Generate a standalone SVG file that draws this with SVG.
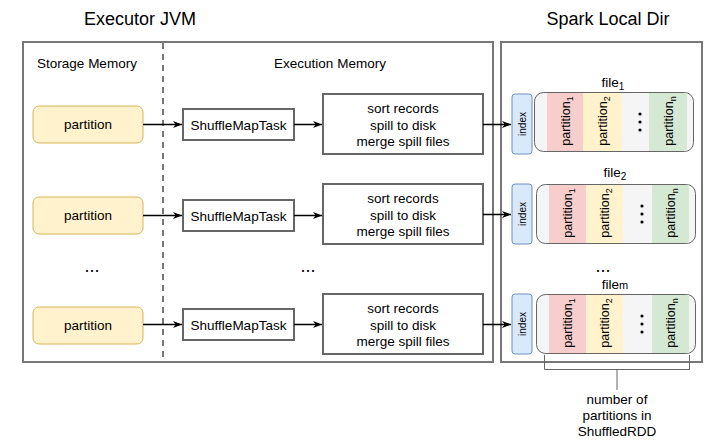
<svg xmlns="http://www.w3.org/2000/svg" width="706" height="444" viewBox="0 0 706 444">
<defs>
<style>
text{font-family:"Liberation Sans",Arial,sans-serif;fill:#000}
.title{font-size:18px;text-anchor:middle}
.lbl{font-size:13.5px;text-anchor:middle}
.cont{fill:#fff;stroke:#777;stroke-width:2}
.part{fill:#fff2cc;stroke:#d6b656;stroke-width:1}
.box{fill:#fff;stroke:#666;stroke-width:2}
.idx{fill:#dae8fc;stroke:#6c8ebf;stroke-width:1}
.file{fill:#f5f5f5;stroke:#666;stroke-width:1}
.p1{fill:#f8cecc}.p2{fill:#fff2cc}.pn{fill:#d5e8d4}
.rot{font-size:12.5px;text-anchor:middle}
.small{font-size:10px;text-anchor:middle}
.edge{fill:none;stroke:#000;stroke-width:1.5}
.br{fill:none;stroke:#666;stroke-width:1}
</style>
<marker id="arr" viewBox="0 0 10 10" refX="10" refY="5" markerWidth="9" markerHeight="9" markerUnits="userSpaceOnUse" orient="auto">
<path d="M0,1 L10,5 L0,9 L3,5 Z" fill="#000"/>
</marker>
</defs>

<text class="title" x="140" y="25">Executor JVM</text>
<text class="title" x="608" y="25">Spark Local Dir</text>

<g id="executor-jvm">
<rect class="cont" x="23" y="42" width="470" height="320"/>
<line x1="163" y1="43" x2="163" y2="361" stroke="#777" stroke-width="2" stroke-dasharray="6,5"/>
<text class="lbl" x="87" y="68">Storage Memory</text>
<text class="lbl" x="330" y="68">Execution Memory</text>
<text class="title" x="92" y="272">...</text>
<text class="title" x="308" y="272">...</text>
</g>

<g id="spark-local-dir">
<rect class="cont" x="501" y="42" width="201" height="320"/>
<text class="title" x="603" y="272">...</text>
</g>

<g id="partition-1"><rect class="part" x="33" y="106" width="110" height="37" rx="6"/><text class="lbl" x="88" y="129">partition</text></g>
<g id="partition-2"><rect class="part" x="33" y="197" width="110" height="37" rx="6"/><text class="lbl" x="88" y="220">partition</text></g>
<g id="partition-3"><rect class="part" x="33" y="307" width="110" height="37" rx="6"/><text class="lbl" x="88" y="330">partition</text></g>

<g id="task-1"><rect class="box" x="183" y="109" width="111" height="31"/><text class="lbl" x="238.5" y="129.5">ShuffleMapTask</text></g>
<g id="task-2"><rect class="box" x="183" y="200" width="111" height="31"/><text class="lbl" x="238.5" y="220.5">ShuffleMapTask</text></g>
<g id="task-3"><rect class="box" x="183" y="309" width="111" height="31"/><text class="lbl" x="238.5" y="329.5">ShuffleMapTask</text></g>

<g id="sort-1"><rect class="box" x="323" y="94" width="160" height="60"/>
<text class="lbl" x="403" y="113">sort records</text><text class="lbl" x="403" y="129.5">spill to disk</text><text class="lbl" x="403" y="146">merge spill files</text></g>
<g id="sort-2"><rect class="box" x="323" y="184" width="160" height="60"/>
<text class="lbl" x="403" y="203">sort records</text><text class="lbl" x="403" y="219.5">spill to disk</text><text class="lbl" x="403" y="236">merge spill files</text></g>
<g id="sort-3"><rect class="box" x="323" y="294" width="160" height="60"/>
<text class="lbl" x="403" y="313">sort records</text><text class="lbl" x="403" y="329.5">spill to disk</text><text class="lbl" x="403" y="346">merge spill files</text></g>

<g id="index-1"><rect class="idx" x="512" y="94" width="20" height="60" rx="3"/><text class="small" transform="translate(525.5,124) rotate(-90)">index</text></g>
<g id="index-2"><rect class="idx" x="512" y="184" width="20" height="60" rx="3"/><text class="small" transform="translate(525.5,214) rotate(-90)">index</text></g>
<g id="index-3"><rect class="idx" x="512" y="294" width="20" height="60" rx="3"/><text class="small" transform="translate(525.5,324) rotate(-90)">index</text></g>

<g id="file-1">
<text class="lbl" x="613" y="87">file<tspan font-size="10" dy="3">1</tspan></text>
<rect class="file" x="534.5" y="92.5" width="159" height="59" rx="9"/>
<rect class="p1" x="547" y="93" width="36" height="58"/>
<rect class="p2" x="583" y="93" width="39" height="58"/>
<rect class="pn" x="649" y="93" width="38" height="58"/>
<text class="rot" transform="translate(569.5,121) rotate(-90)">partition<tspan font-size="9" dy="3">1</tspan></text>
<text class="rot" transform="translate(607,121) rotate(-90)">partition<tspan font-size="9" dy="3">2</tspan></text>
<text class="rot" transform="translate(672.5,121) rotate(-90)">partition<tspan font-size="9" dy="3">n</tspan></text>
<g fill="#000"><circle cx="640" cy="114" r="1.6"/><circle cx="640" cy="122" r="1.6"/><circle cx="640" cy="130" r="1.6"/></g>
</g>

<g id="file-2">
<text class="lbl" x="615" y="177">file<tspan font-size="10" dy="3">2</tspan></text>
<rect class="file" x="536.5" y="184.5" width="159" height="59" rx="9"/>
<rect class="p1" x="549" y="185" width="37" height="58"/>
<rect class="p2" x="586" y="185" width="37" height="58"/>
<rect class="pn" x="652" y="185" width="37" height="58"/>
<text class="rot" transform="translate(572,213) rotate(-90)">partition<tspan font-size="9" dy="3">1</tspan></text>
<text class="rot" transform="translate(609,213) rotate(-90)">partition<tspan font-size="9" dy="3">2</tspan></text>
<text class="rot" transform="translate(675,213) rotate(-90)">partition<tspan font-size="9" dy="3">n</tspan></text>
<g fill="#000"><circle cx="642" cy="206" r="1.6"/><circle cx="642" cy="214" r="1.6"/><circle cx="642" cy="222" r="1.6"/></g>
</g>

<g id="file-m">
<text class="lbl" x="615" y="289">file<tspan font-size="11">m</tspan></text>
<rect class="file" x="536.5" y="294.5" width="159" height="59" rx="9"/>
<rect class="p1" x="549" y="295" width="37" height="58"/>
<rect class="p2" x="586" y="295" width="37" height="58"/>
<rect class="pn" x="652" y="295" width="37" height="58"/>
<text class="rot" transform="translate(572,323) rotate(-90)">partition<tspan font-size="9" dy="3">1</tspan></text>
<text class="rot" transform="translate(609,323) rotate(-90)">partition<tspan font-size="9" dy="3">2</tspan></text>
<text class="rot" transform="translate(675,323) rotate(-90)">partition<tspan font-size="9" dy="3">n</tspan></text>
<g fill="#000"><circle cx="642" cy="316" r="1.6"/><circle cx="642" cy="324" r="1.6"/><circle cx="642" cy="332" r="1.6"/></g>
</g>

<g id="partition-count-note">
<path class="br" d="M544.5,355 V369.5 H689.5 V355"/>
<line class="br" x1="617" y1="369.5" x2="617" y2="390"/>
<text class="lbl" x="617" y="404">number of</text>
<text class="lbl" x="617" y="420">partitions in</text>
<text class="lbl" x="617" y="436">ShuffledRDD</text>
</g>

<g id="connectors">
<line class="edge" x1="143" y1="124.5" x2="182" y2="124.5" marker-end="url(#arr)"/>
<line class="edge" x1="294" y1="124.5" x2="322" y2="124.5" marker-end="url(#arr)"/>
<line class="edge" x1="483" y1="124.5" x2="511" y2="124.5" marker-end="url(#arr)"/>
<line class="edge" x1="143" y1="215.5" x2="182" y2="215.5" marker-end="url(#arr)"/>
<line class="edge" x1="294" y1="215.5" x2="322" y2="215.5" marker-end="url(#arr)"/>
<line class="edge" x1="483" y1="214.5" x2="511" y2="214.5" marker-end="url(#arr)"/>
<line class="edge" x1="143" y1="324.5" x2="182" y2="324.5" marker-end="url(#arr)"/>
<line class="edge" x1="294" y1="324.5" x2="322" y2="324.5" marker-end="url(#arr)"/>
<line class="edge" x1="483" y1="324.5" x2="511" y2="324.5" marker-end="url(#arr)"/>
</g>
</svg>
